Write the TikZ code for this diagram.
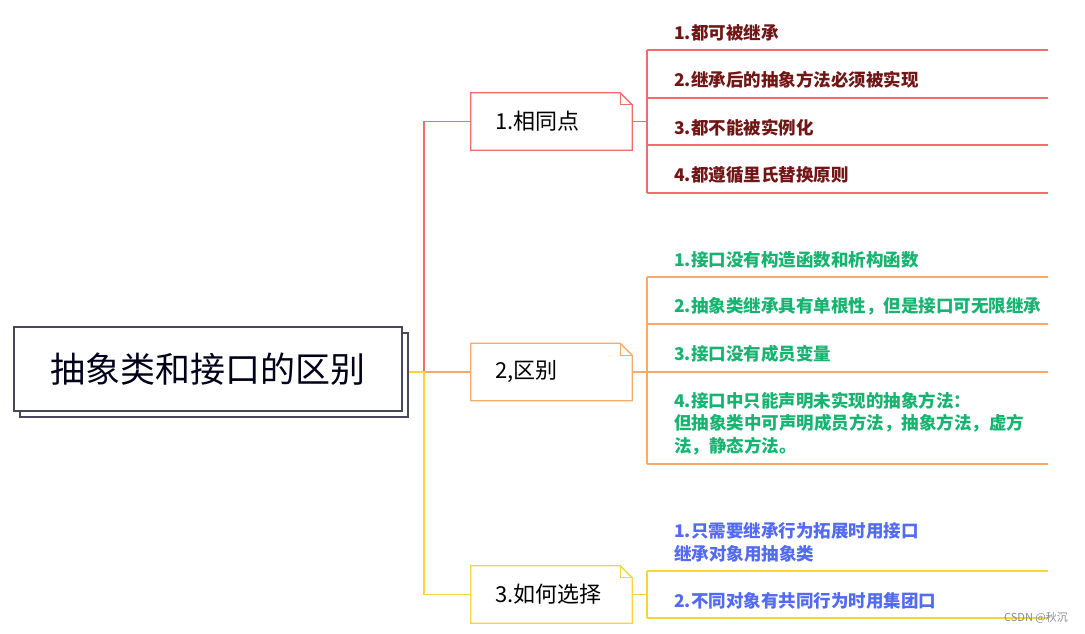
\documentclass[tikz,border=0pt]{standalone}
\usepackage{fontspec}
\setmainfont{Noto Sans CJK SC}
\usetikzlibrary{positioning}

\definecolor{redln}{RGB}{242,108,108}
\definecolor{orgln}{RGB}{248,170,104}
\definecolor{yelln}{RGB}{246,212,60}
\definecolor{rootln}{RGB}{72,72,92}
\definecolor{redtx}{RGB}{112,22,22}
\definecolor{grntx}{RGB}{22,180,112}
\definecolor{blutx}{RGB}{82,106,244}

\tikzset{
  rootbox/.style={draw=rootln,fill=white,line width=1.3pt,minimum width=388pt,minimum height=84pt},
  branch/.style={minimum width=161pt,minimum height=57pt,inner xsep=24pt,text width=113pt,align=left,
    font=\fontsize{22}{26}\selectfont},
  leaf/.style={anchor=south west,inner xsep=0pt,inner ysep=9pt,text width=374pt,align=left,
    font=\fontsize{17.5}{22.5}\selectfont\bfseries},
}
\newcommand{\foldbox}[2]{%
  \draw[#2,line width=1.3pt] (#1.north west) -- ([xshift=-12pt]#1.north east)
    -- ([yshift=-12pt]#1.north east) -- (#1.south east) -- (#1.south west) -- cycle;
  \draw[#2,line width=0.9pt] ([xshift=-12pt]#1.north east) |- ([yshift=-12pt]#1.north east);}

\begin{document}
\begin{tikzpicture}[x=1pt,y=-1pt]
\useasboundingbox (0,0) rectangle (1085,634);

% root
\node[rootbox] (rootsh) at (214,375) {};
\node[rootbox,font=\fontsize{35}{40}\selectfont,text=black!90!blue] (root) at (208,369) {抽象类和接口的区别};

% branches
\node[branch] (b1) at (551.5,121.5) {1.相同点};
\node[branch] (b2) at (551.5,372) {2,区别};
\node[branch] (b3) at (551.5,594.5) {3.如何选择};
\foldbox{b1}{redln}
\foldbox{b2}{orgln}
\foldbox{b3}{yelln}

\coordinate (hub) at (424,372);
\draw[redln,line width=1.3pt] (hub) |- (b1.west);
\draw[orgln,line width=1.3pt] (hub) -- (b2.west);
\draw[yelln,line width=1.3pt] (rootsh.east |- hub) -- (hub) |- (b3.west);

% leaves of 1
\node[leaf,text=redtx] (l11) at (674,50) {1.都可被继承};
\node[leaf,text=redtx] (l12) at (674,98) {2.继承后的抽象方法必须被实现};
\node[leaf,text=redtx] (l13) at (674,145) {3.都不能被实例化};
\node[leaf,text=redtx] (l14) at (674,193) {4.都遵循里氏替换原则};
\coordinate (sp1) at (647,121.5);
\draw[redln,line width=1.3pt] (b1.east) -- (sp1);
\draw[redln,line width=1.3pt] (l11.south west -| sp1) -- (l14.south west -| sp1);
\foreach \k in {1,...,4}
  \draw[redln,line width=1.3pt] (l1\k.south west -| sp1) -- (l1\k.south east);

% leaves of 2
\node[leaf,text=grntx] (l21) at (674,277) {1.接口没有构造函数和析构函数};
\node[leaf,text=grntx] (l22) at (674,324) {2.抽象类继承具有单根性，但是接口可无限继承};
\node[leaf,text=grntx] (l23) at (674,372) {3.接口没有成员变量};
\node[leaf,text=grntx] (l24) at (674,464) {4.接口中只能声明未实现的抽象方法：\\但抽象类中可声明成员方法，抽象方法，虚方\\法，静态方法。};
\coordinate (sp2) at (647,372);
\draw[orgln,line width=1.3pt] (b2.east) -- (sp2);
\draw[orgln,line width=1.3pt] (l21.south west -| sp2) -- (l24.south west -| sp2);
\foreach \k in {1,...,4}
  \draw[orgln,line width=1.3pt] (l2\k.south west -| sp2) -- (l2\k.south east);

% leaves of 3
\node[leaf,text=blutx] (l31) at (674,571) {1.只需要继承行为拓展时用接口\\继承对象用抽象类};
\node[leaf,text=blutx] (l32) at (674,618) {2.不同对象有共同行为时用集团口};
\coordinate (sp3) at (647,594.5);
\draw[yelln,line width=1.3pt] (b3.east) -- (sp3);
\draw[yelln,line width=1.3pt] (l31.south west -| sp3) -- (l32.south west -| sp3);
\foreach \k in {1,2}
  \draw[yelln,line width=1.3pt] (l3\k.south west -| sp3) -- (l3\k.south east);

\node[text=black!45,font=\fontsize{11}{13}\selectfont] (mark) at (1036,618) {CSDN @秋沉};
\end{tikzpicture}
\end{document}
